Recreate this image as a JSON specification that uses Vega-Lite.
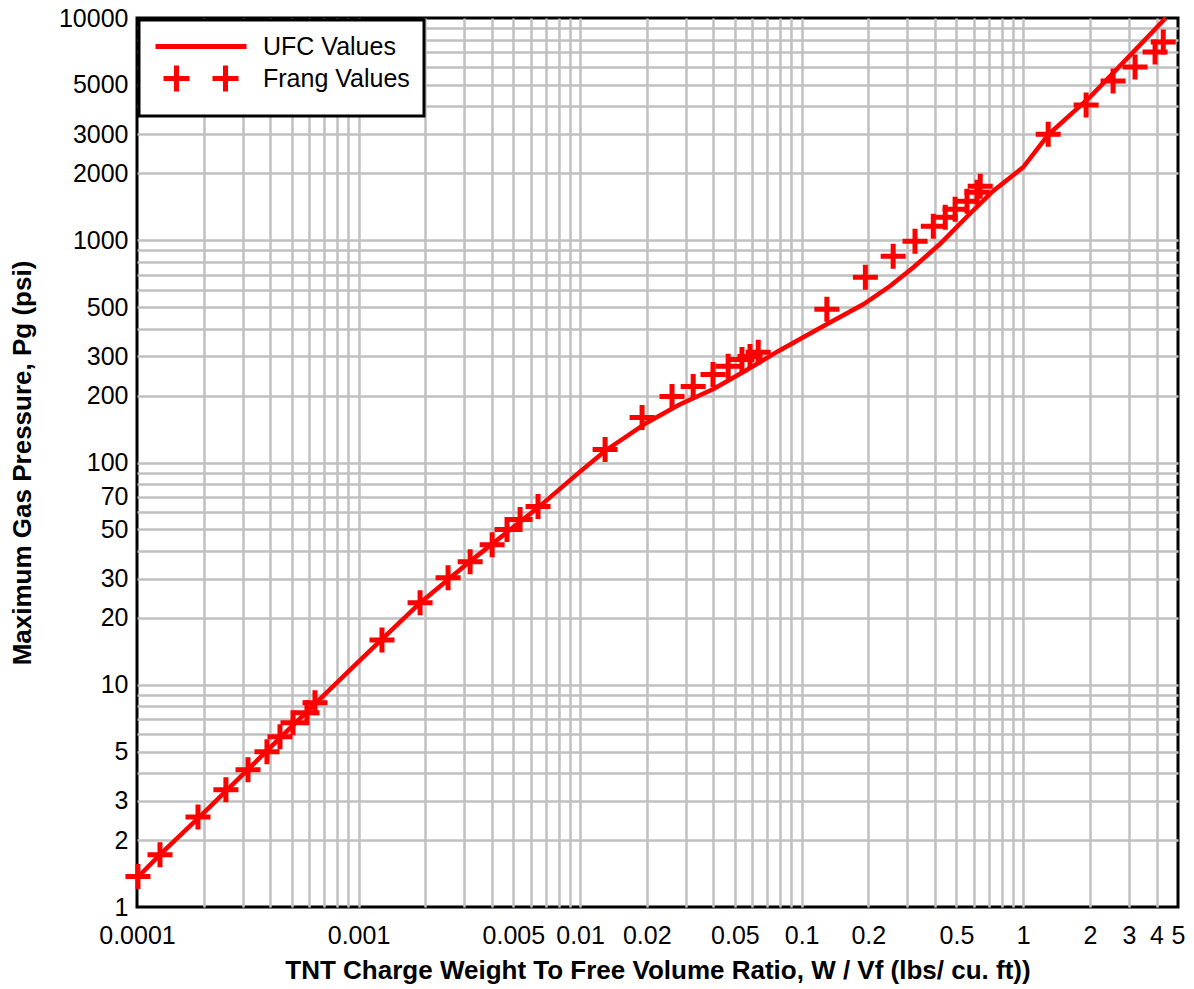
{
  "$schema": "https://vega.github.io/schema/vega-lite/v6.json",
  "description": "Maximum gas pressure vs TNT charge weight to free volume ratio, UFC vs Frang",
  "width": 1041,
  "height": 889,
  "autosize": {"type": "none"},
  "padding": {"left": 137, "top": 18, "right": 16, "bottom": 82},
  "background": "white",
  "config": {
    "font": "Liberation Sans",
    "view": {"stroke": "black", "strokeWidth": 3},
    "axis": {
      "domain": false,
      "ticks": false,
      "gridWidth": 2.5,
      "labelFont": "Liberation Sans",
      "labelFontSize": 25,
      "labelColor": "black",
      "labelOverlap": false,
      "labelFlush": false,
      "titleFont": "Liberation Sans",
      "titleFontSize": 26,
      "titleFontWeight": "bold",
      "titleColor": "black"
    }
  },
  "datasets": {
    "ufc": [
      {"w": 0.0001, "p": 1.35, "series": "UFC Values"},
      {"w": 0.000127, "p": 1.72, "series": "UFC Values"},
      {"w": 0.0002, "p": 2.65, "series": "UFC Values"},
      {"w": 0.0005, "p": 6.5, "series": "UFC Values"},
      {"w": 0.001, "p": 12.7, "series": "UFC Values"},
      {"w": 0.0019, "p": 23.4, "series": "UFC Values"},
      {"w": 0.0032, "p": 36, "series": "UFC Values"},
      {"w": 0.0065, "p": 63, "series": "UFC Values"},
      {"w": 0.01, "p": 91, "series": "UFC Values"},
      {"w": 0.013, "p": 113, "series": "UFC Values"},
      {"w": 0.02, "p": 151, "series": "UFC Values"},
      {"w": 0.028, "p": 182, "series": "UFC Values"},
      {"w": 0.04, "p": 214, "series": "UFC Values"},
      {"w": 0.057, "p": 262, "series": "UFC Values"},
      {"w": 0.078, "p": 316, "series": "UFC Values"},
      {"w": 0.125, "p": 410, "series": "UFC Values"},
      {"w": 0.19, "p": 515, "series": "UFC Values"},
      {"w": 0.25, "p": 621, "series": "UFC Values"},
      {"w": 0.32, "p": 756, "series": "UFC Values"},
      {"w": 0.42, "p": 959, "series": "UFC Values"},
      {"w": 0.56, "p": 1282, "series": "UFC Values"},
      {"w": 0.73, "p": 1663, "series": "UFC Values"},
      {"w": 1.0, "p": 2130, "series": "UFC Values"},
      {"w": 1.3, "p": 2990, "series": "UFC Values"},
      {"w": 2.0, "p": 4400, "series": "UFC Values"},
      {"w": 3.0, "p": 6700, "series": "UFC Values"},
      {"w": 4.4, "p": 10000, "series": "UFC Values"}
    ],
    "frang": [
      {"w": 0.000101, "p": 1.37, "series": "Frang Values"},
      {"w": 0.000127, "p": 1.72, "series": "Frang Values"},
      {"w": 0.0001885, "p": 2.54, "series": "Frang Values"},
      {"w": 0.000252, "p": 3.37, "series": "Frang Values"},
      {"w": 0.000317, "p": 4.14, "series": "Frang Values"},
      {"w": 0.000386, "p": 4.99, "series": "Frang Values"},
      {"w": 0.000442, "p": 5.83, "series": "Frang Values"},
      {"w": 0.000506, "p": 6.74, "series": "Frang Values"},
      {"w": 0.000585, "p": 7.48, "series": "Frang Values"},
      {"w": 0.000636, "p": 8.3, "series": "Frang Values"},
      {"w": 0.001276, "p": 15.9, "series": "Frang Values"},
      {"w": 0.001896, "p": 23.4, "series": "Frang Values"},
      {"w": 0.002536, "p": 30.3, "series": "Frang Values"},
      {"w": 0.00319, "p": 35.8, "series": "Frang Values"},
      {"w": 0.00401, "p": 42.7, "series": "Frang Values"},
      {"w": 0.00468, "p": 49.9, "series": "Frang Values"},
      {"w": 0.00536, "p": 55.4, "series": "Frang Values"},
      {"w": 0.00646, "p": 63.4, "series": "Frang Values"},
      {"w": 0.01297, "p": 114.5, "series": "Frang Values"},
      {"w": 0.01905, "p": 159.5, "series": "Frang Values"},
      {"w": 0.026, "p": 198, "series": "Frang Values"},
      {"w": 0.0324, "p": 220, "series": "Frang Values"},
      {"w": 0.0398, "p": 249, "series": "Frang Values"},
      {"w": 0.0466, "p": 271, "series": "Frang Values"},
      {"w": 0.0538, "p": 291, "series": "Frang Values"},
      {"w": 0.0585, "p": 300, "series": "Frang Values"},
      {"w": 0.0637, "p": 313, "series": "Frang Values"},
      {"w": 0.13, "p": 489, "series": "Frang Values"},
      {"w": 0.194, "p": 681, "series": "Frang Values"},
      {"w": 0.259, "p": 847, "series": "Frang Values"},
      {"w": 0.325, "p": 989, "series": "Frang Values"},
      {"w": 0.393, "p": 1156, "series": "Frang Values"},
      {"w": 0.445, "p": 1270, "series": "Frang Values"},
      {"w": 0.493, "p": 1380, "series": "Frang Values"},
      {"w": 0.558, "p": 1499, "series": "Frang Values"},
      {"w": 0.619, "p": 1644, "series": "Frang Values"},
      {"w": 0.64, "p": 1750, "series": "Frang Values"},
      {"w": 1.297, "p": 3002, "series": "Frang Values"},
      {"w": 1.924, "p": 4055, "series": "Frang Values"},
      {"w": 2.547, "p": 5200, "series": "Frang Values"},
      {"w": 3.2, "p": 6015, "series": "Frang Values"},
      {"w": 3.94, "p": 7030, "series": "Frang Values"},
      {"w": 4.29, "p": 7800, "series": "Frang Values"}
    ]
  },
  "encoding": {
    "x": {
      "field": "w",
      "type": "quantitative",
      "scale": {"type": "log", "domain": [0.0001, 5], "nice": false},
      "axis": {
        "title": "TNT Charge Weight To Free Volume Ratio, W / Vf  (lbs/ cu. ft))",
        "values": [0.0001, 0.0002, 0.0003, 0.0004, 0.0005, 0.0006, 0.0007, 0.0008, 0.0009,
                   0.001, 0.002, 0.003, 0.004, 0.005, 0.006, 0.007, 0.008, 0.009,
                   0.01, 0.02, 0.03, 0.04, 0.05, 0.06, 0.07, 0.08, 0.09,
                   0.1, 0.2, 0.3, 0.4, 0.5, 0.6, 0.7, 0.8, 0.9,
                   1, 2, 3, 4, 5],
        "labelExpr": "indexof([0.0001, 0.001, 0.005, 0.01, 0.02, 0.05, 0.1, 0.2, 0.5, 1, 2, 3, 4, 5], datum.value) >= 0 ? format(datum.value, '~g') : ''",
        "grid": true,
        "gridColor": {"condition": {"test": "datum.value <= 0.0001 || datum.value >= 5", "value": "transparent"}, "value": "#c0c0c0"},
        "labelPadding": 16,
        "titlePadding": 9
      }
    },
    "y": {
      "field": "p",
      "type": "quantitative",
      "scale": {"type": "log", "domain": [1, 10000], "nice": false},
      "axis": {
        "title": "Maximum Gas Pressure, Pg (psi)",
        "values": [1, 2, 3, 4, 5, 6, 7, 8, 9,
                   10, 20, 30, 40, 50, 60, 70, 80, 90,
                   100, 200, 300, 400, 500, 600, 700, 800, 900,
                   1000, 2000, 3000, 4000, 5000, 6000, 7000, 8000, 9000,
                   10000],
        "labelExpr": "indexof([1, 2, 3, 5, 10, 20, 30, 50, 70, 100, 200, 300, 500, 1000, 2000, 3000, 5000, 10000], datum.value) >= 0 ? format(datum.value, '~g') : ''",
        "grid": true,
        "gridColor": {"condition": {"test": "datum.value <= 1 || datum.value >= 10000", "value": "transparent"}, "value": "#c0c0c0"},
        "labelPadding": 9,
        "titlePadding": 23
      }
    },
    "color": {
      "field": "series",
      "type": "nominal",
      "scale": {"domain": ["UFC Values", "Frang Values"], "range": ["#ff0000", "#ff0000"]},
      "legend": {
        "title": null,
        "orient": "none",
        "legendX": 2,
        "legendY": 2,
        "padding": 14,
        "fillColor": "white",
        "strokeColor": "black",
        "labelFont": "Liberation Sans",
        "labelFontSize": 25,
        "labelColor": "black",
        "labelOffset": 85,
        "labelLimit": 400,
        "symbolSize": 400,
        "rowPadding": -5,
        "encode": {
          "legend": {"update": {"strokeWidth": {"value": 3}}},
          "symbols": {
            "update": {
              "shape": {"signal": "datum.value === 'UFC Values' ? 'M-1,0H8.1' : 'M-0.2,0H2.4M1.1,-1.3V1.3M4.7,0H7.3M6,-1.3V1.3'"},
              "stroke": {"value": "#ff0000"},
              "strokeWidth": {"value": 5},
              "fill": {"value": "transparent"},
              "opacity": {"value": 1}
            }
          }
        }
      }
    }
  },
  "layer": [
    {
      "data": {"name": "ufc"},
      "mark": {"type": "line", "strokeWidth": 4.5, "clip": false}
    },
    {
      "data": {"name": "frang"},
      "mark": {"type": "point", "shape": "M-1,0H1M0,-1V1", "size": 625, "filled": false, "strokeWidth": 5, "opacity": 1, "clip": false}
    }
  ]
}
